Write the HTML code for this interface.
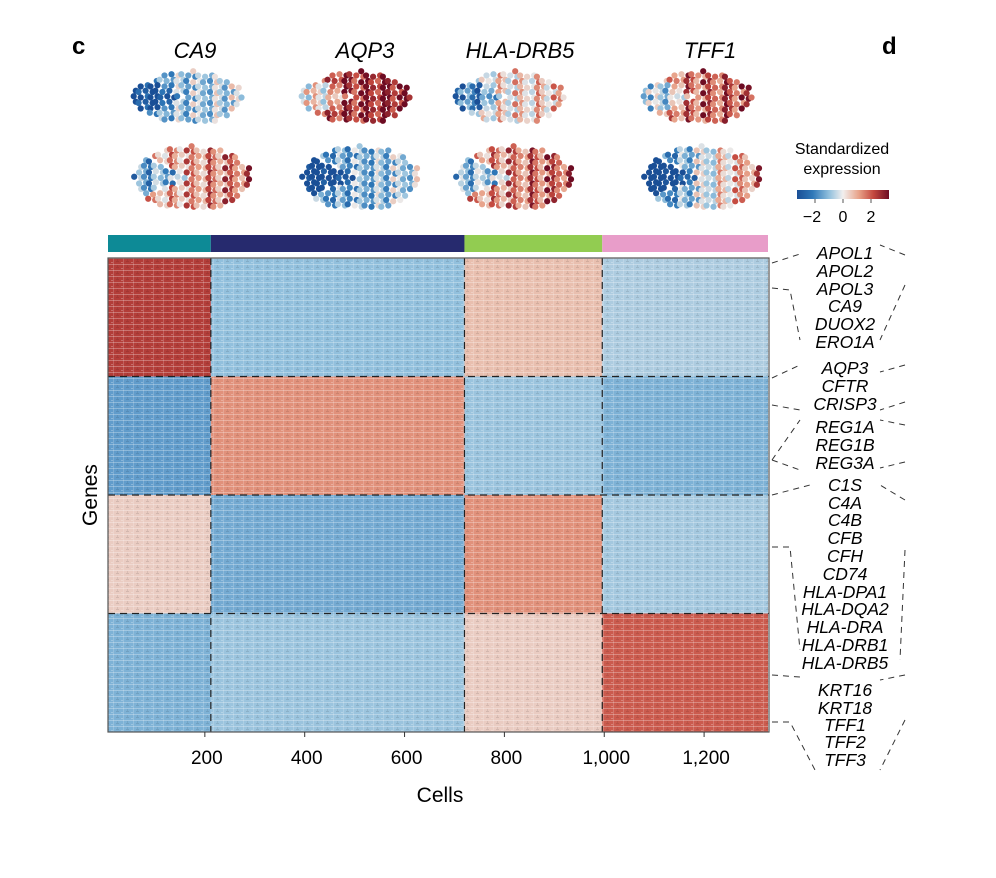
<!DOCTYPE html>
<html><head><meta charset="utf-8">
<style>
body{margin:0;background:#fff;}
svg text{font-family:"Liberation Sans",Arial,sans-serif;}
</style></head>
<body>
<svg id="fig" width="996" height="873" viewBox="0 0 996 873" xmlns="http://www.w3.org/2000/svg">
<defs>
<pattern id="tex" width="10" height="6" patternUnits="userSpaceOnUse">
<rect x="0" y="0" width="10" height="1" fill="#fff" opacity="0.28"/>
<rect x="3" y="0" width="1" height="6" fill="#fff" opacity="0.18"/>
<rect x="6" y="3" width="3" height="1" fill="#000" opacity="0.10"/>
<rect x="1" y="4" width="2" height="1" fill="#fff" opacity="0.25"/>
<rect x="7" y="1" width="1" height="2" fill="#000" opacity="0.08"/>
</pattern>
<linearGradient id="cmap" x1="0" x2="1" y1="0" y2="0">
<stop offset="0" stop-color="#1a4f96"/><stop offset="0.17" stop-color="#2f78b8"/>
<stop offset="0.35" stop-color="#92c0dd"/><stop offset="0.5" stop-color="#f2efee"/>
<stop offset="0.67" stop-color="#e8a38a"/><stop offset="0.83" stop-color="#c4493f"/>
<stop offset="1" stop-color="#6d0b22"/></linearGradient>
</defs>
<text x="72" y="54" font-size="24" font-weight="bold">c</text>
<text x="882" y="54" font-size="24" font-weight="bold">d</text>
<g id="titles"></g>
<g id="clouds"></g>
<g id="groupbar"></g>
<g id="heat"></g>
<g id="xaxis"></g>
<text x="440" y="802" font-size="21" text-anchor="middle">Cells</text>
<text transform="translate(97,495) rotate(-90)" font-size="21" text-anchor="middle">Genes</text>
<g>
<text x="842" y="154" font-size="16" text-anchor="middle">Standardized</text>
<text x="842" y="174" font-size="16" text-anchor="middle">expression</text>
<rect x="797" y="190" width="92" height="9" fill="url(#cmap)"/>
<g stroke="#555" stroke-width="1"><line x1="815" y1="199" x2="815" y2="203"/><line x1="843" y1="199" x2="843" y2="203"/><line x1="871" y1="199" x2="871" y2="203"/></g>
<text x="812" y="222" font-size="16" text-anchor="middle">−2</text>
<text x="843" y="222" font-size="16" text-anchor="middle">0</text>
<text x="871" y="222" font-size="16" text-anchor="middle">2</text>
</g>
<g id="genes" font-size="17.5" font-style="italic" text-anchor="middle"></g>
<g id="connectors" fill="none" stroke="#333" stroke-width="1" stroke-dasharray="6,5"></g>
</svg>
<script>
// ---- data ----
const geneTitles = ["CA9","AQP3","HLA-DRB5","TFF1"];
const cellBounds = [0, 212, 720, 996, 1328];           // cluster boundaries (cell index)
const clusterColors = ["#0d8a96","#262a6e","#92cc51","#e89dc9"];
const xTicks = [200,400,600,800,1000,1200];
const xTickLabels = ["200","400","600","800","1,000","1,200"];
const geneBlocks = [0,1,2,3,4];                         // gene block boundaries (row units)
const blockMeans = [
  [2.2,-1.0,0.6,-0.7],
  [-1.5,1.2,-0.9,-1.2],
  [0.4,-1.3,1.2,-0.8],
  [-1.2,-0.9,0.4,1.8]
];
const geneLabels = ["APOL1","APOL2","APOL3","CA9","DUOX2","ERO1A","AQP3","CFTR","CRISP3","REG1A","REG1B","REG3A","C1S","C4A","C4B","CFB","CFH","CD74","HLA-DPA1","HLA-DQA2","HLA-DRA","HLA-DRB1","HLA-DRB5","KRT16","KRT18","TFF1","TFF2","TFF3"];
// mean expression of each tSNE cloud (top, bottom) per gene
const cloudTop = [-1.0, 2.4, 0.2, 1.6];
const cloudBottom = [1.0, -1.3, 1.3, -0.6];

// ---- scales ----
const X0=108, X1=769, Y0=258, Y1=732;
const xs = c => 105 + (c/1330)*(664);
const ys = r => Y0 + r/4*(Y1-Y0);
const stops=[[-3,[26,79,150]],[-2,[47,120,184]],[-1,[146,192,221]],[0,[235,232,231]],[1,[232,163,138]],[2,[196,73,63]],[3,[109,11,34]]];
function cm(v){v=Math.max(-3,Math.min(3,v));for(let i=0;i<stops.length-1;i++){const a=stops[i],b=stops[i+1];if(v<=b[0]){const t=(v-a[0])/(b[0]-a[0]);return 'rgb('+a[1].map((c,k)=>Math.round(c+(b[1][k]-c)*t)).join(',')+')';}}return 'rgb(109,11,34)';}
const NS="http://www.w3.org/2000/svg";
function mk(tag,attrs,parent){const e=document.createElementNS(NS,tag);for(const k in attrs)e.setAttribute(k,attrs[k]);parent.appendChild(e);return e;}

// titles
const titleX=[195,365,520,710];
const tg=document.getElementById('titles');
geneTitles.forEach((g,i)=>{const t=mk('text',{x:titleX[i],y:58,'font-size':22,'font-style':'italic','text-anchor':'middle'},tg);t.textContent=g;

});

// clouds (decorative dot clouds)
const cg=document.getElementById('clouds');
const cloudX=[188,356,510,698];
function cloud(cx,cy,rx,ry,mean,name,skew){
  const g=mk('g',{},cg);
  
  
  for(let yy=-ry;yy<=ry;yy+=5.5){for(let xx=-rx;xx<=rx;xx+=5.5){
    const off=((Math.abs(yy)*7+xx*3)%7);
    const px=xx+(off-3)*0.6, py=yy+((xx*5)%5-2)*0.5;
    if((px*px)/(rx*rx)+(py*py)/(ry*ry)>1)continue;
    const v=mean+skew*(px/rx)+((off%3)-1)*0.9;
    mk('circle',{cx:cx+px,cy:cy+py,r:3.1,fill:cm(v)},g);
  }}
}
cloudTop.forEach((m,i)=>cloud(cloudX[i],98,55,27,m,'tsne-top-'+geneTitles[i].toLowerCase(),0.4));
cloudBottom.forEach((m,i)=>cloud(cloudX[i]+4,178,60,32,m,'tsne-bottom-'+geneTitles[i].toLowerCase(),i==3?2.2:0.6));

// group bar
const gb=document.getElementById('groupbar');
clusterColors.forEach((c,i)=>{const r=mk('rect',{x:Math.max(X0,xs(cellBounds[i])),y:235,width:Math.min(X1,xs(cellBounds[i+1]))-Math.max(X0,xs(cellBounds[i])),height:17,fill:c},gb);

});

// heatmap
const hg=document.getElementById('heat');
for(let r=0;r<4;r++)for(let c=0;c<4;c++){
  const x=Math.max(X0,xs(cellBounds[c])), x2=Math.min(X1,xs(cellBounds[c+1]));
  const rr=mk('rect',{x:x,y:ys(geneBlocks[r]),width:x2-x,height:ys(geneBlocks[r+1])-ys(geneBlocks[r]),fill:cm(blockMeans[r][c])},hg);
  
  
}
mk('rect',{x:X0,y:Y0,width:X1-X0,height:Y1-Y0,fill:'url(#tex)'},hg);
for(let i=1;i<4;i++){
  mk('line',{x1:xs(cellBounds[i]),x2:xs(cellBounds[i]),y1:Y0,y2:Y1,stroke:'#222','stroke-width':1.2,'stroke-dasharray':'7,5'},hg);
  mk('line',{x1:X0,x2:X1,y1:ys(geneBlocks[i]),y2:ys(geneBlocks[i]),stroke:'#222','stroke-width':1.2,'stroke-dasharray':'7,5'},hg);
}
const fr=mk('rect',{x:X0,y:Y0,width:X1-X0,height:Y1-Y0,fill:'none',stroke:'#555','stroke-width':1.2},hg);



// x axis
const xg=document.getElementById('xaxis');
xTicks.forEach((t,i)=>{mk('line',{x1:xs(t),x2:xs(t),y1:Y1,y2:Y1+5,stroke:'#333'},xg);
const tx=mk('text',{x:xs(t)+2,y:764,'font-size':19,'text-anchor':'middle'},xg);tx.textContent=xTickLabels[i];

});

// gene labels
const labelY=[253,271,289,306,324,342,368,386,404,427,445,463,485,503,520,538,556,574,592,609,627,645,663,690,708,725,742,760];
const gg=document.getElementById('genes');
geneLabels.forEach((g,i)=>{const t=mk('text',{x:845,y:labelY[i]+6},gg);t.textContent=g;

});

// connectors
const cn=document.getElementById('connectors');
const paths=["M772,263 L800,254","M772,288 L790,290 L800,340","M905,255 L880,245","M905,285 L880,340",
"M772,405 L800,410","M772,378 L800,365","M905,365 L880,372","M905,402 L880,410",
"M772,460 L800,420","M772,460 L800,470","M905,425 L880,420","M905,462 L880,468",
"M772,495 L810,485","M772,547 L790,547 L800,650","M905,500 L880,485","M905,550 L900,660",
"M772,675 L800,677","M772,722 L790,722 L815,770","M905,675 L880,680","M905,720 L880,770"];
paths.forEach(d=>mk('path',{d:d},cn));
</script>
</body></html>
